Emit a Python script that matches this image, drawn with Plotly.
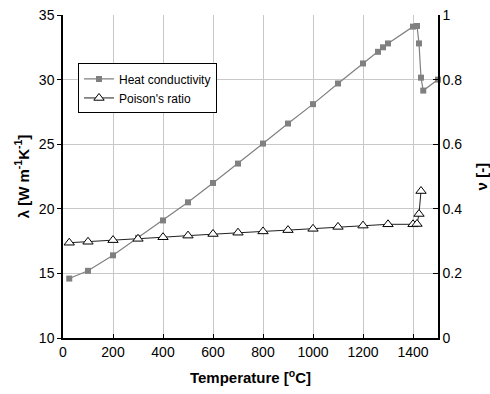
import plotly.graph_objects as go

# Data
temp_heat = [25, 100, 200, 300, 400, 500, 600, 700, 800, 900, 1000, 1100, 1200, 1260, 1280, 1300, 1400, 1416, 1424, 1432, 1441, 1500]
heat_conductivity = [14.6, 15.2, 16.4, 17.75, 19.1, 20.5, 22.0, 23.5, 25.05, 26.6, 28.1, 29.7, 31.25, 32.15, 32.5, 32.8, 34.1, 34.15, 32.8, 30.15, 29.15, 30.0]

temp_poisson = [25, 100, 200, 300, 400, 500, 600, 700, 800, 900, 1000, 1100, 1200, 1300, 1400, 1416, 1424, 1432]
poisson_ratio = [0.295, 0.298, 0.303, 0.307, 0.312, 0.317, 0.322, 0.326, 0.330, 0.334, 0.338, 0.344, 0.348, 0.352, 0.352, 0.353, 0.384, 0.455]

x_ticks = [0, 200, 400, 600, 800, 1000, 1200, 1400]

FONT = "Liberation Sans, Arial, sans-serif"

fig = go.Figure()
fig.add_trace(go.Scatter(
    x=temp_heat, y=heat_conductivity, name="Heat conductivity",
    mode="lines+markers", cliponaxis=False,
    line=dict(color="#808080", width=1.2),
    marker=dict(symbol="square", size=6, color="#808080"),
))
fig.add_trace(go.Scatter(
    x=temp_poisson, y=poisson_ratio, name="Poison's ratio", yaxis="y2",
    mode="lines+markers", cliponaxis=False,
    line=dict(color="#202020", width=1),
    marker=dict(symbol="triangle-up", size=9, color="white", line=dict(color="#000000", width=1)),
))

fig.update_layout(
    width=490, height=394,
    margin=dict(l=63, r=52, t=15, b=56),
    paper_bgcolor="white", plot_bgcolor="white",
    font=dict(family=FONT, size=14, color="black"),
    showlegend=True,
    legend=dict(
        x=0.04, y=0.85, xanchor="left", yanchor="top",
        bgcolor="white", bordercolor="black", borderwidth=1,
        font=dict(size=12, color="black"), tracegroupgap=0, itemwidth=30,
    ),
    xaxis=dict(
        range=[0, 1500], tickvals=x_ticks, automargin=False,
        tickfont=dict(size=14, color="black"),
        showgrid=True, gridcolor="#c8c8c8", gridwidth=1,
        showline=True, linecolor="black", linewidth=1.5,
        ticks="inside", ticklen=4, tickcolor="black",
        zeroline=False,
        title=dict(text="<b>Temperature [<sup>o</sup>C]</b>", font=dict(size=15, color="black"), standoff=14),
    ),
    yaxis=dict(
        range=[10, 35], dtick=5, automargin=False,
        tickfont=dict(size=14, color="black"),
        showgrid=True, gridcolor="#c8c8c8", gridwidth=1,
        showline=True, linecolor="black", linewidth=1.5,
        ticks="outside", ticklen=4, tickcolor="black",
        zeroline=False,
        title=dict(text="<b>λ [W m<sup>-1</sup>K<sup>-1</sup>]</b>", font=dict(size=15, color="black"), standoff=6),
    ),
    yaxis2=dict(
        range=[0, 1], dtick=0.2, overlaying="y", side="right", automargin=False,
        tickfont=dict(size=14, color="black"),
        showgrid=False,
        showline=True, linecolor="black", linewidth=1.5,
        ticks="inside", ticklen=5, tickcolor="black",
        zeroline=False,
    ),
    annotations=[dict(
        text="<b>ν [-]</b>", textangle=-90, showarrow=False,
        xref="paper", yref="paper", x=1.117, y=0.5,
        xanchor="center", yanchor="middle",
        font=dict(size=15, color="black"),
    )],
)

fig.write_html("out.html")
